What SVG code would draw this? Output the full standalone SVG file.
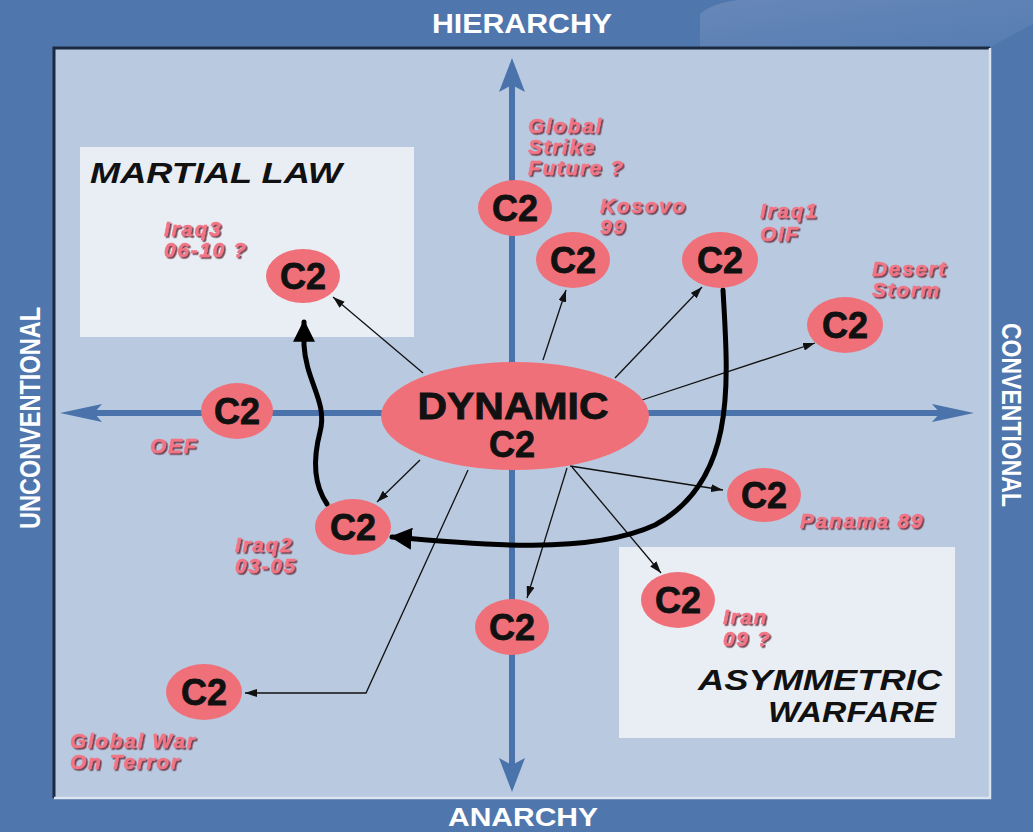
<svg xmlns="http://www.w3.org/2000/svg" width="1033" height="832" viewBox="0 0 1033 832">
<style>
.axl{font-family:"Liberation Sans",Arial,sans-serif;font-weight:bold;fill:#ffffff}
.node{fill:#f0707a}
.c2{font-family:"Liberation Sans",Arial,sans-serif;font-weight:bold;font-size:36px;fill:#111;stroke:#111;stroke-width:0.8;text-anchor:middle}
.lab{font-family:"Liberation Sans",Arial,sans-serif;font-weight:bold;font-style:italic;font-size:21px;fill:#f27484;stroke:#f27484;stroke-width:0.5;letter-spacing:1.6px;filter:url(#sh)}
.zone{font-family:"Liberation Sans",Arial,sans-serif;font-weight:bold;font-style:italic;font-size:29px;fill:#111}
.thin{fill:none;stroke:#111;stroke-width:1.3;marker-end:url(#ah)}
.thick{fill:none;stroke:#000;stroke-width:5;stroke-linecap:round;marker-end:url(#ahb)}
.axis{stroke:#4a73ab;stroke-width:6}
.axh{fill:#4a73ab}
</style>
<defs>
<marker id="ah" viewBox="0 0 12 8" refX="12" refY="4" markerWidth="12" markerHeight="8" markerUnits="userSpaceOnUse" orient="auto"><path d="M0,0 L12,4 L0,8 z" fill="#111"/></marker>
<marker id="ahb" viewBox="0 0 20 20" refX="18" refY="10" markerWidth="22" markerHeight="22" markerUnits="userSpaceOnUse" orient="auto"><path d="M0,0 L20,10 L0,20 z" fill="#000"/></marker>
<filter id="sh" x="-10%" y="-20%" width="130%" height="150%"><feDropShadow dx="1.6" dy="1.6" stdDeviation="0.4" flood-color="#6a3040" flood-opacity="0.9"/></filter>
<linearGradient id="glare" x1="0" y1="0" x2="1" y2="1"><stop offset="0" stop-color="#6787b8"/><stop offset="1" stop-color="#567db2"/></linearGradient>
</defs>
<rect x="0" y="0" width="1033" height="832" fill="#4f76ad"/>
<path d="M700 47 L700 14 Q712 3 738 0 L1033 0 L1033 24 L990 47 Z" fill="url(#glare)"/>
<rect x="53" y="47" width="937" height="751" fill="#b9c9df"/>
<path d="M54 798 L54 48 L990 48" fill="none" stroke="#1c2a40" stroke-width="3"/>
<path d="M990 48 L990 798 L54 798" fill="none" stroke="#dbe4ef" stroke-width="2.5"/>
<text class="axl" x="522" y="33" font-size="27" text-anchor="middle" textLength="180" lengthAdjust="spacingAndGlyphs">HIERARCHY</text>
<text class="axl" x="523" y="826" font-size="25" text-anchor="middle" textLength="150" lengthAdjust="spacingAndGlyphs">ANARCHY</text>
<text class="axl" transform="translate(40 418) rotate(-90)" font-size="30" text-anchor="middle" textLength="222" lengthAdjust="spacingAndGlyphs">UNCONVENTIONAL</text>
<text class="axl" transform="translate(1002 415) rotate(90)" font-size="28" text-anchor="middle" textLength="184" lengthAdjust="spacingAndGlyphs">CONVENTIONAL</text>
<g id="zone-martial-law">
<rect x="80" y="147" width="334" height="190" fill="#e9eef5"/>
<text class="zone" x="90" y="183" textLength="252" lengthAdjust="spacingAndGlyphs">MARTIAL LAW</text>
</g>
<g id="zone-asymmetric">
<rect x="619" y="547" width="336" height="191" fill="#e9eef5"/>
<text class="zone" x="698" y="690" textLength="244" lengthAdjust="spacingAndGlyphs">ASYMMETRIC</text>
<text class="zone" x="768" y="722" textLength="168" lengthAdjust="spacingAndGlyphs">WARFARE</text>
</g>
<g id="axes">
<line class="axis" x1="512" y1="82" x2="512" y2="768"/>
<line class="axis" x1="92" y1="413" x2="942" y2="413"/>
<polygon class="axh" points="512,58 525,92 512,85 499,92"/>
<polygon class="axh" points="512,792 525,758 512,765 499,758"/>
<polygon class="axh" points="60,413 102,404 94,413 102,422"/>
<polygon class="axh" points="974,413 932,404 940,413 932,422"/>
</g>
<g id="connectors">
<line class="thin" x1="423" y1="373" x2="333" y2="297"/>
<line class="thin" x1="543" y1="360" x2="566" y2="290"/>
<line class="thin" x1="615" y1="378" x2="702" y2="287"/>
<line class="thin" x1="642" y1="400" x2="815" y2="343"/>
<line class="thin" x1="570" y1="466" x2="723" y2="490"/>
<line class="thin" x1="572" y1="467" x2="661" y2="573"/>
<line class="thin" x1="567" y1="468" x2="527" y2="598"/>
<line class="thin" x1="420" y1="460" x2="377" y2="502"/>
<polyline class="thin" points="468,470 366,693 245,693"/>
<path class="thick" d="M723 290 C728 380 738 480 655 525 C590 555 480 545 392 537"/>
<path class="thick" d="M327 504 C312 482 314 455 320 432 C328 402 306 382 304 345 L304 322"/>
</g>
<g id="node-dynamic">
<ellipse class="node" cx="515" cy="416" rx="134" ry="54"/>
<text class="c2" x="513" y="419" font-size="32" textLength="191" lengthAdjust="spacingAndGlyphs">DYNAMIC</text>
<text class="c2" x="512" y="457" font-size="33">C2</text>
</g>
<g id="node-global-strike">
<ellipse class="node" cx="515" cy="208" rx="37" ry="28"/>
<text class="c2" x="515" y="221">C2</text>
<text class="lab" x="528" y="133">Global</text>
<text class="lab" x="528" y="154">Strike</text>
<text class="lab" x="528" y="175">Future ?</text>
</g>
<g id="node-kosovo">
<ellipse class="node" cx="573" cy="260" rx="37" ry="28"/>
<text class="c2" x="573" y="273">C2</text>
<text class="lab" x="600" y="213">Kosovo</text>
<text class="lab" x="600" y="234">99</text>
</g>
<g id="node-iraq1">
<ellipse class="node" cx="720" cy="260" rx="38" ry="28"/>
<text class="c2" x="720" y="273">C2</text>
<text class="lab" x="760" y="218">Iraq1</text>
<text class="lab" x="760" y="241">OIF</text>
</g>
<g id="node-desert-storm">
<ellipse class="node" cx="845" cy="325" rx="38" ry="28"/>
<text class="c2" x="845" y="338">C2</text>
<text class="lab" x="872" y="276">Desert</text>
<text class="lab" x="872" y="297">Storm</text>
</g>
<g id="node-iraq3">
<ellipse class="node" cx="303" cy="276" rx="37" ry="27"/>
<text class="c2" x="303" y="289">C2</text>
<text class="lab" x="164" y="236">Iraq3</text>
<text class="lab" x="164" y="257">06-10 ?</text>
</g>
<g id="node-oef">
<ellipse class="node" cx="237" cy="411" rx="36" ry="28"/>
<text class="c2" x="237" y="424">C2</text>
<text class="lab" x="150" y="453">OEF</text>
</g>
<g id="node-iraq2">
<ellipse class="node" cx="353" cy="527" rx="38" ry="28"/>
<text class="c2" x="353" y="540">C2</text>
<text class="lab" x="235" y="552">Iraq2</text>
<text class="lab" x="235" y="573">03-05</text>
</g>
<g id="node-panama">
<ellipse class="node" cx="764" cy="495" rx="37" ry="27"/>
<text class="c2" x="764" y="508">C2</text>
<text class="lab" x="800" y="528">Panama 89</text>
</g>
<g id="node-iran">
<ellipse class="node" cx="678" cy="600" rx="37" ry="28"/>
<text class="c2" x="678" y="613">C2</text>
<text class="lab" x="723" y="624">Iran</text>
<text class="lab" x="723" y="646">09 ?</text>
</g>
<g id="node-anarchy">
<ellipse class="node" cx="512" cy="627" rx="37" ry="28"/>
<text class="c2" x="512" y="640">C2</text>
</g>
<g id="node-gwot">
<ellipse class="node" cx="204" cy="692" rx="38" ry="28"/>
<text class="c2" x="204" y="705">C2</text>
<text class="lab" x="70" y="748">Global War</text>
<text class="lab" x="70" y="769">On Terror</text>
</g>
</svg>
